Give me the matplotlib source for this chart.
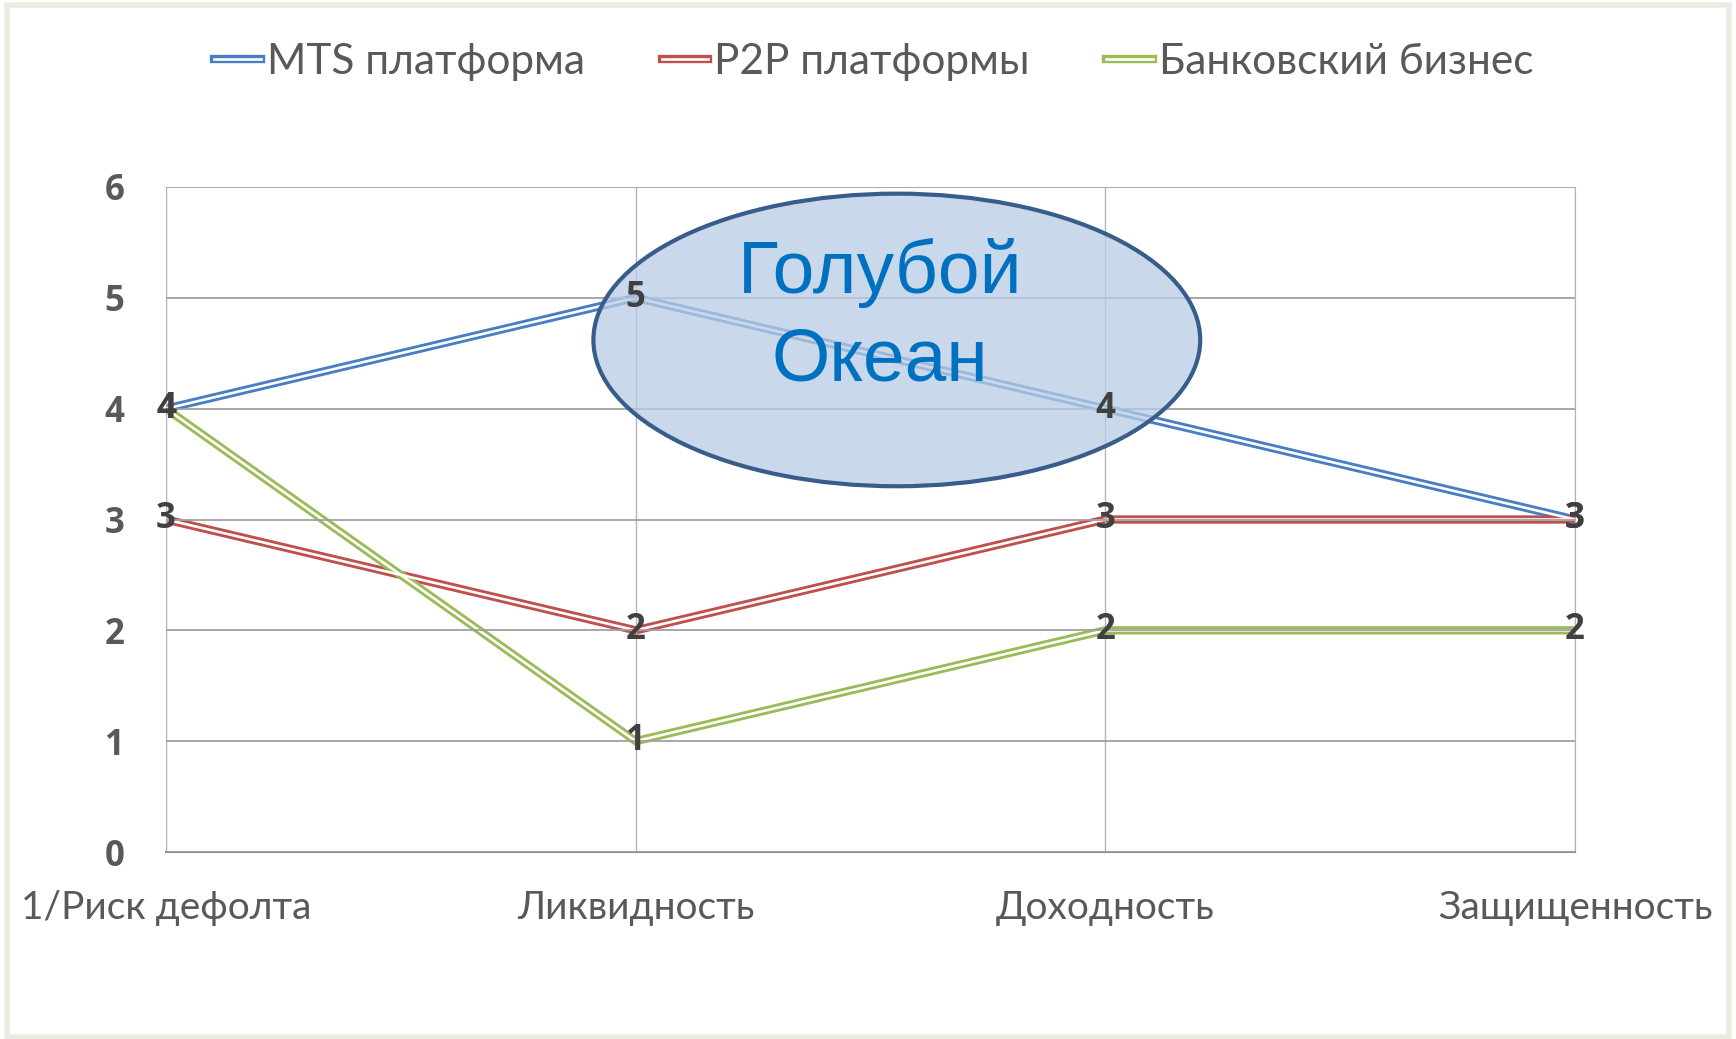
import matplotlib
matplotlib.use('Agg')
import matplotlib.pyplot as plt
from matplotlib.lines import Line2D
from matplotlib.patches import Ellipse, Rectangle

# data
categories = ['1/Риск дефолта', 'Ликвидность', 'Доходность', 'Защищенность']
series_names = ['MTS платформа', 'P2P платформы', 'Банковский бизнес']
mts = [4, 5, 4, 3]
p2p = [3, 2, 3, 3]
bank = [4, 1, 2, 2]
colors = ['#4A7EC4', '#C0504D', '#9BBB59']

plt.rcParams['font.family'] = ['Lato', 'DejaVu Sans']
BOLD = ['Open Sans', 'DejaVu Sans']

fig = plt.figure(figsize=(17.36, 10.39), dpi=100)
fig.patch.set_facecolor('white')
# light frame around the chart area
fig.add_artist(Rectangle((7/1736, 2/1039), 1722/1736, 1032/1039, transform=fig.transFigure,
                         fill=False, edgecolor='#ECEBE1', lw=4))

ax = fig.add_axes([166/1736, 1 - 852/1039, (1575-166)/1736, (852-187)/1039])
x = list(range(len(categories)))

handles = []
for vals, name, c in zip([mts, p2p, bank], series_names, colors):
    ax.plot(x, vals, color=c, lw=6, zorder=2, solid_capstyle='butt', solid_joinstyle='miter')
    ax.plot(x, vals, color='white', lw=1.9, zorder=2.1, solid_capstyle='butt', solid_joinstyle='miter')
    handles.append((Line2D([], [], color=c, lw=6), Line2D([], [], color='white', lw=1.9)))

# data labels
for vals in [mts, p2p, bank]:
    for xi, v in zip(x, vals):
        ax.text(xi, v, str(v), ha='center', va='center', fontsize=25, fontweight='bold',
                family=BOLD, color='#404040', zorder=6)

ax.set_xlim(0, 3)
ax.set_ylim(0, 6)
ax.set_yticks(range(0, 7))
ax.set_xticks(x)
ax.set_xticklabels(categories, fontsize=28, color='#595959')
ax.tick_params(axis='y', length=0, pad=30, labelsize=25, labelcolor='#595959')
for lab in ax.get_yticklabels():
    lab.set_fontweight('bold')
    lab.set_family(BOLD)
ax.tick_params(axis='x', length=0, pad=27)

ax.set_axisbelow(False)
ax.grid(axis='y', color='#A0A0A0', lw=1.3, zorder=2.5)
ax.grid(axis='x', color='#B4B4B4', lw=1.0, zorder=2.5)
ax.spines['top'].set_visible(False)
ax.spines['left'].set_color('#D0D0D0')
ax.spines['right'].set_color('#B4B4B4')
ax.spines['bottom'].set_color('#909090')
ax.spines['bottom'].set_linewidth(1.5)

# blue ocean ellipse
ax.add_patch(Ellipse((1.556, 4.62), 1.292, 2.64, facecolor='#B8CCE4', alpha=0.75,
                     edgecolor='none', zorder=3))
ax.add_patch(Ellipse((1.556, 4.62), 1.292, 2.64, facecolor='none',
                     edgecolor='#385D8A', lw=3, zorder=3.1))
ax.text(1.52, 4.83, 'Голубой\nОкеан', ha='center', va='center', fontsize=54,
        color='#0070C0', family='Liberation Sans', linespacing=1.33, zorder=4)

fig.legend(handles, series_names, loc='center', bbox_to_anchor=(874/1736, 1 - 62/1039),
           ncol=3, frameon=False, fontsize=30.5, labelcolor='#595959',
           handlelength=1.1, handletextpad=0.15, columnspacing=1.8)

fig.savefig('out.png', dpi=100)
